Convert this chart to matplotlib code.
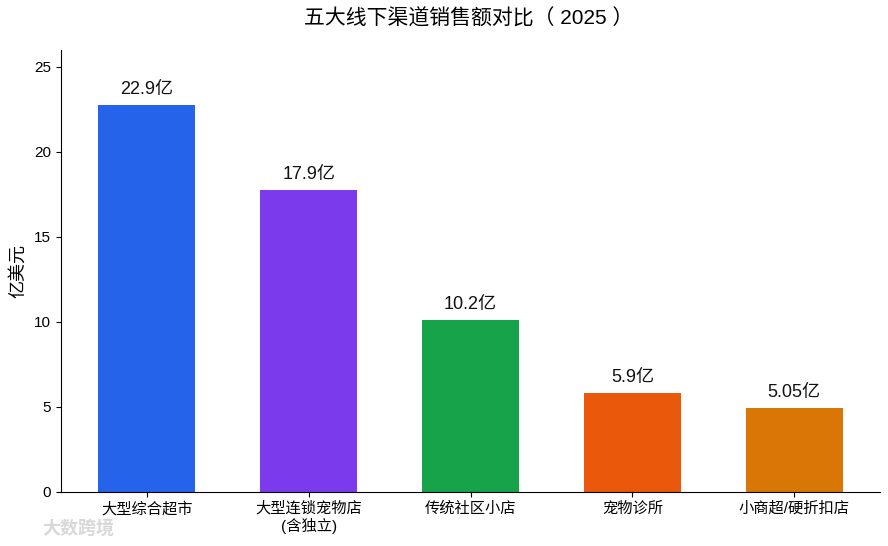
import matplotlib

matplotlib.use("Agg")
import matplotlib.pyplot as plt

plt.rcParams["font.family"] = ["Liberation Sans", "Noto Sans CJK SC", "DejaVu Sans"]

# data
channels = ["大型综合超市", "大型连锁宠物店\n(含独立)", "传统社区小店", "宠物诊所", "小商超/硬折扣店"]
sales = [22.78, 17.78, 10.08, 5.78, 4.93]
sales_labels = ["22.9亿", "17.9亿", "10.2亿", "5.9亿", "5.05亿"]
colors = ["#2563EB", "#7C3AED", "#16A34A", "#EA580C", "#D97706"]

fig = plt.figure(figsize=(8.88, 5.46), dpi=100)
ax = fig.add_axes([0.0687, 0.0998, 0.9223, 0.8086])

x = range(len(channels))
bars = ax.bar(x, sales, width=0.6, color=colors)
for rect, lab in zip(bars, sales_labels):
    ax.annotate(lab, (rect.get_x() + rect.get_width() / 2, rect.get_height()),
                xytext=(0, 5), textcoords="offset points",
                ha="center", va="bottom", fontsize=13, color="#111111")

ax.set_xticks(list(x))
ax.set_xticklabels(channels, fontsize=11)
ax.set_ylim(0, 26)
ax.set_yticks([0, 5, 10, 15, 20, 25])
ax.tick_params(axis="y", labelsize=11)
ax.set_ylabel("亿美元", fontsize=13, labelpad=5)
ax.spines["top"].set_visible(False)
ax.spines["right"].set_visible(False)

fig.suptitle("五大线下渠道销售额对比（ 2025 ）", fontsize=15, y=0.985, x=0.528)

# faint watermark, bottom-left
fig.text(0.048, 0.022, "大数跨境", fontsize=13, color="#d8d8d8", fontweight="bold")

fig.savefig("out.png", dpi=100)
